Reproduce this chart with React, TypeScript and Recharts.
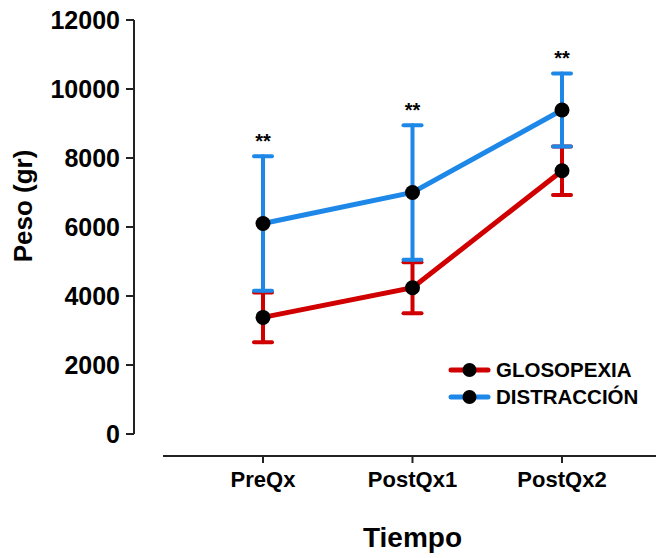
import React from 'react';
import { LineChart, Line, XAxis, YAxis, ErrorBar, Legend } from 'recharts';

const categories = ['PreQx', 'PostQx1', 'PostQx2'];
const glosopexia = [3380, 4240, 7630];
const glosopexiaErr = [720, 740, 700];
const distraccion = [6100, 7000, 9390];
const distraccionErr = [1950, 1950, 1060];
const significance = ['**', '**', '**'];
const yTicks = [0, 2000, 4000, 6000, 8000, 10000, 12000];

const seriesNames = { glos: 'GLOSOPEXIA', dist: 'DISTRACCIÓN' };
const legendOrder = ['glos', 'dist'];
const RED = '#D00000';
const BLUE = '#1E88E8';
const FONT = '"Liberation Sans", Arial, Helvetica, sans-serif';

const data = categories.map((c, i) => ({
  name: c,
  glos: glosopexia[i],
  glosErr: glosopexiaErr[i],
  dist: distraccion[i],
  distErr: distraccionErr[i],
  star: distraccion[i] + distraccionErr[i],
  sig: significance[i],
}));

const LegendContent = (props: any) => {
  const items = legendOrder
    .map((k) => (props.payload || []).find((p: any) => p.dataKey === k))
    .filter(Boolean);
  return (
    <div style={{ fontFamily: FONT }}>
      {items.map((it: any) => (
        <div key={it.dataKey} style={{ display: 'flex', alignItems: 'center', height: 27 }}>
          <svg width={44} height={20} style={{ display: 'block' }}>
            <line x1={3} y1={10} x2={40} y2={10} stroke={it.color} strokeWidth={5} strokeLinecap="round" />
            <circle cx={21.5} cy={10} r={7} fill="#000" />
          </svg>
          <span style={{ fontSize: 20.5, fontWeight: 'bold', color: '#000', marginLeft: 4 }}>{it.value}</span>
        </div>
      ))}
    </div>
  );
};

export default function App() {
  return (
    <div style={{ position: 'absolute', left: 0, top: 0, background: '#fff' }}>
      <LineChart width={656} height={558} data={data} margin={{ top: 20, right: 0, left: 0, bottom: 0 }}>
        <XAxis
          dataKey="name"
          type="category"
          padding={{ left: 129, right: 94 }}
          height={102}
          axisLine={{ stroke: '#222', strokeWidth: 2, strokeDasharray: '0 29 2000' }}
          tickLine={{ stroke: '#222', strokeWidth: 2 }}
          tickSize={7}
          tickMargin={8}
          tick={{ fill: '#000', fontSize: 22, fontWeight: 'bold', fontFamily: FONT }}
          label={(p: any) => (
            <text x={412.5} y={547} textAnchor="middle" fontSize={28} fontWeight="bold" fontFamily={FONT} fill="#000">
              Tiempo
            </text>
          )}
        />
        <YAxis
          type="number"
          width={134}
          domain={[-638, 12000]}
          allowDataOverflow
          ticks={yTicks}
          interval={0}
          axisLine={{ stroke: '#222', strokeWidth: 2, strokeDasharray: '414 2000' }}
          tickLine={{ stroke: '#222', strokeWidth: 2 }}
          tickSize={8}
          tickMargin={6}
          tick={{ fill: '#000', fontSize: 25, fontWeight: 'bold', fontFamily: FONT }}
          label={(p: any) => (
            <text
              x={32}
              y={206}
              transform="rotate(-90 32 206)"
              textAnchor="middle"
              fontSize={26}
              fontWeight="bold"
              fontFamily={FONT}
              fill="#000"
            >
              Peso (gr)
            </text>
          )}
        />
        <Legend
          layout="vertical"
          align="center"
          verticalAlign="middle"
          content={<LegendContent />}
          wrapperStyle={{ position: 'absolute', left: 448, top: 356, width: 'auto' }}
        />
        <Line
          dataKey="glos"
          name={seriesNames.glos}
          stroke={RED}
          strokeWidth={5}
          dot={{ r: 7.5, fill: '#000', stroke: 'none' }}
          activeDot={false}
          isAnimationActive={false}
        >
          <ErrorBar dataKey="glosErr" direction="y" width={9} stroke={RED} strokeWidth={4} strokeLinecap="round" isAnimationActive={false} />
        </Line>
        <Line
          dataKey="dist"
          name={seriesNames.dist}
          stroke={BLUE}
          strokeWidth={5}
          dot={{ r: 7.5, fill: '#000', stroke: 'none' }}
          activeDot={false}
          isAnimationActive={false}
        >
          <ErrorBar dataKey="distErr" direction="y" width={9} stroke={BLUE} strokeWidth={4} strokeLinecap="round" isAnimationActive={false} />
        </Line>
        <Line
          dataKey="star"
          legendType="none"
          stroke="none"
          strokeWidth={0}
          dot={false}
          activeDot={false}
          isAnimationActive={false}
          label={(p: any) => (
            <text x={p.x} y={p.y - 8} textAnchor="middle" fontSize={20} fontWeight="bold" fontFamily={FONT} fill="#000">
              {data[p.index] ? data[p.index].sig : ''}
            </text>
          )}
        />
      </LineChart>
    </div>
  );
}
